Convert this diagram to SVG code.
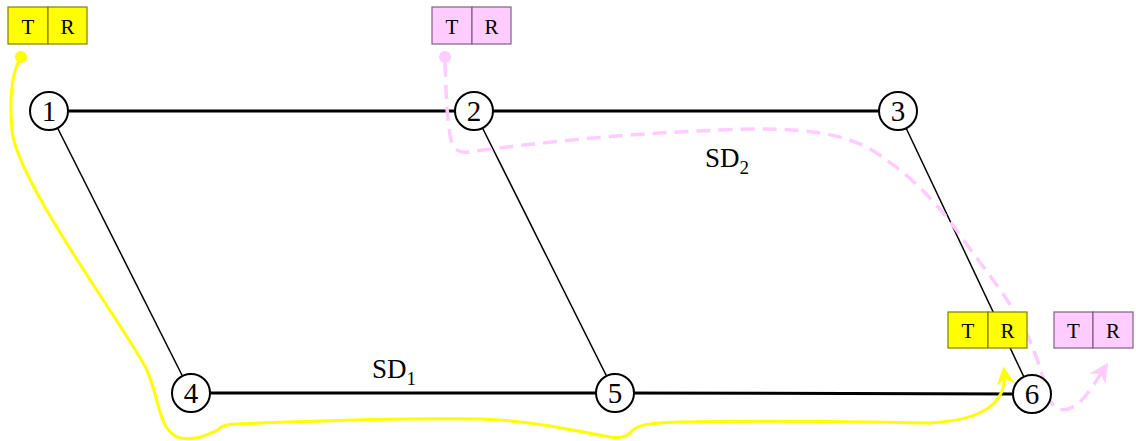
<svg xmlns="http://www.w3.org/2000/svg" width="1136" height="441" viewBox="0 0 1136 441">
<style>
.node circle{fill:#fff;stroke:#000;stroke-width:2}
.node text,.box text,.lbl{font-family:"Liberation Serif","DejaVu Serif",serif;fill:#000;text-anchor:middle}
.node text{font-size:29px}
.box text{font-size:21px}
.lbl{font-size:27px;text-anchor:start}
.sub{font-size:19px}
.thick{stroke:#000;stroke-width:3;fill:none}
.thin{stroke:#000;stroke-width:1.5;fill:none}
.yb rect{fill:#ffff00;stroke:#7f7f00;stroke-width:1.2}
.pb rect{fill:#ffccff;stroke:#806080;stroke-width:1.2}
.ypath{stroke:#ffff00;stroke-width:3;fill:none}
.ppath{stroke:#ffccff;stroke-width:3.5;fill:none;stroke-dasharray:14 8}
</style>
<defs>
<marker id="ay" viewBox="0 0 10 10" refX="8" refY="5" markerWidth="6" markerHeight="6" markerUnits="strokeWidth" orient="auto">
<path d="M0,0 L10,5 L0,10 L3,5 z" fill="#ffff00"/>
</marker>
<marker id="ap" viewBox="0 0 10 10" refX="8" refY="5" markerWidth="5.5" markerHeight="5.5" markerUnits="strokeWidth" orient="auto">
<path d="M0,0 L10,5 L0,10 L3,5 z" fill="#ffccff"/>
</marker>
</defs>
<g id="connectors">
<line class="thick" x1="49" y1="111" x2="474" y2="111"/>
<line class="thick" x1="474" y1="111" x2="898" y2="111"/>
<line class="thick" x1="191" y1="393" x2="615" y2="393"/>
<line class="thick" x1="615" y1="393" x2="1032" y2="394"/>
<line class="thin" x1="49" y1="111" x2="191" y2="393"/>
<line class="thin" x1="474" y1="111" x2="615" y2="393"/>
<line class="thin" x1="898" y1="111" x2="1032" y2="394"/>
</g>
<g id="yellow-route">
<circle cx="21" cy="57" r="6" fill="#ffff00"/>
<path class="ypath" marker-end="url(#ay)" d="M21,57 C12,72 9,95 12,130 C16,180 120,320 146,368 C160,398 158,432 180,438 C198,441 208,434 218,430 C221,424 230,424 260,423 C340,420 420,418 480,419 C540,421 585,433 610,437 C622,439 628,436 632,431 C637,425 648,423 680,422 C780,420 880,422 930,423 C985,420 1008,402 1004,370"/>
</g>
<g id="pink-route">
<circle cx="445" cy="57" r="6" fill="#ffccff"/>
<path class="ppath" marker-end="url(#ap)" d="M445,63 C446,85 446,115 451,140 C454,152 462,154 475,151 C560,140 640,133 720,130 C790,127 840,130 875,152 C910,175 935,200 960,235 C985,270 1010,300 1025,330 C1038,357 1045,385 1050,400 C1055,412 1068,413 1080,402 C1090,392 1098,378 1106,366"/>
</g>
<g id="n1" class="node"><circle cx="49" cy="111" r="19"/><text x="49" y="121">1</text></g>
<g id="n2" class="node"><circle cx="474" cy="111" r="19"/><text x="474" y="121">2</text></g>
<g id="n3" class="node"><circle cx="898" cy="111" r="19"/><text x="898" y="121">3</text></g>
<g id="n4" class="node"><circle cx="191" cy="393" r="19"/><text x="191" y="403">4</text></g>
<g id="n5" class="node"><circle cx="615" cy="393" r="19"/><text x="615" y="403">5</text></g>
<g id="n6" class="node"><circle cx="1032" cy="394" r="19"/><text x="1032" y="404">6</text></g>
<g id="box-y1" class="box yb"><rect x="8" y="7" width="40" height="37"/><rect x="48" y="7" width="39" height="37"/><text x="28" y="34">T</text><text x="67.5" y="34">R</text></g>
<g id="box-p1" class="box pb"><rect x="432" y="7" width="40" height="37"/><rect x="472" y="7" width="39" height="37"/><text x="452" y="34">T</text><text x="491.5" y="34">R</text></g>
<g id="box-y2" class="box yb"><rect x="948" y="312" width="40" height="36"/><rect x="988" y="312" width="39" height="36"/><text x="968" y="338">T</text><text x="1007.5" y="338">R</text></g>
<g id="box-p2" class="box pb"><rect x="1054" y="312" width="39" height="36"/><rect x="1093" y="312" width="40" height="36"/><text x="1073.5" y="338">T</text><text x="1113" y="338">R</text></g>
<g id="sd1"><text class="lbl" x="372" y="378">SD<tspan class="sub" dy="7">1</tspan></text></g>
<g id="sd2"><text class="lbl" x="705" y="167">SD<tspan class="sub" dy="7">2</tspan></text></g>
</svg>
